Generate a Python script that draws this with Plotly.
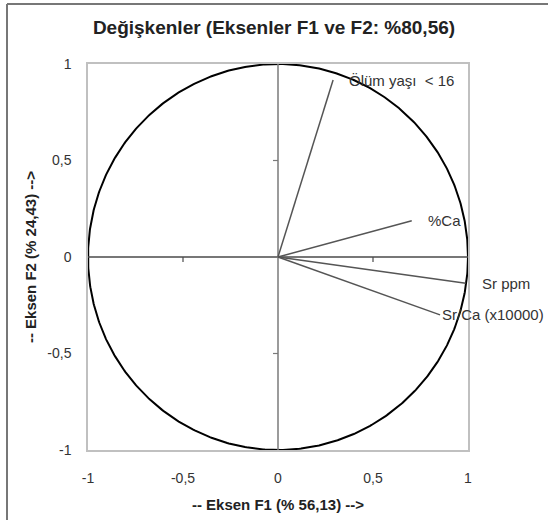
import numpy as np
import plotly.graph_objects as go

# Variable loadings on the first two factors
variables = ["Ölüm yaşı  < 16", "%Ca", "Sr ppm", "Sr/Ca (x10000)"]
f1 = [0.29, 0.704, 0.988, 0.853]
f2 = [0.917, 0.188, -0.136, -0.30]
label_shift = [14, 14, 14, 0]

tick_vals = [-1, -0.5, 0, 0.5, 1]
tick_text = ["-1", "-0,5", "0", "0,5", "1"]

W, H = 548, 520
ML, MR, MT, MB = 88, 80, 64, 70
FONT = "Arial, Liberation Sans, sans-serif"

fig = go.Figure()

# Correlation circle
theta = np.linspace(0, 2 * np.pi, 721)
fig.add_trace(go.Scatter(x=np.cos(theta), y=np.sin(theta), mode="lines",
                         line=dict(color="#000000", width=2),
                         hoverinfo="skip", showlegend=False))

# Axes through the origin
fig.add_trace(go.Scatter(x=[tick_vals[0], tick_vals[-1]], y=[0, 0], mode="lines",
                         line=dict(color="#4a4a4a", width=1.5),
                         hoverinfo="skip", showlegend=False))
fig.add_trace(go.Scatter(x=[0, 0], y=[tick_vals[0], tick_vals[-1]], mode="lines",
                         line=dict(color="#7a7a7a", width=1.5),
                         hoverinfo="skip", showlegend=False))

# Small tick marks on the origin axes
sx = 2 / (W - ML - MR)
sy = 2 / (H - MT - MB)
for v in tick_vals:
    if v in (-1, 0, 1):
        continue
    fig.add_shape(type="line", x0=v, x1=v, y0=0, y1=-5 * sy,
                  line=dict(color="#4a4a4a", width=1.2))
    fig.add_shape(type="line", x0=0, x1=-5 * sx, y0=v, y1=v,
                  line=dict(color="#7a7a7a", width=1.2))

# Loading vectors
for name, x, y, dx in zip(variables, f1, f2, label_shift):
    fig.add_trace(go.Scatter(x=[0, x], y=[0, y], mode="lines",
                             line=dict(color="#555555", width=1.5),
                             name=name, showlegend=False))
    fig.add_annotation(x=x, y=y, text=name, showarrow=False,
                       xanchor="left", yanchor="middle", xshift=dx,
                       font=dict(family=FONT, size=15, color="#333333"))

# Outer frame (left and top edges)
pw = W - ML - MR
ph = H - MT - MB
fx0 = (7 - ML) / pw
fy1 = (H - MB - 4) / ph
fig.add_shape(type="line", xref="paper", yref="paper",
              x0=fx0, x1=(W + 10 - ML) / pw, y0=fy1, y1=fy1,
              line=dict(color="#777777", width=2))
fig.add_shape(type="line", xref="paper", yref="paper",
              x0=fx0, x1=fx0, y0=fy1, y1=(-MB - 10) / ph,
              line=dict(color="#777777", width=2))

axis_common = dict(range=[-1, 1], tickvals=tick_vals, ticktext=tick_text,
                   showgrid=False, zeroline=False, showline=True, mirror=True,
                   linecolor="#c0c0c0", linewidth=1.5, ticks="",
                   automargin=False,
                   tickfont=dict(family=FONT, size=14, color="#333333"))

fig.update_layout(
    width=W, height=H,
    margin=dict(l=ML, r=MR, t=MT, b=MB, autoexpand=False),
    paper_bgcolor="white", plot_bgcolor="white",
    title=dict(text="<b>Değişkenler (Eksenler F1 ve F2: %80,56)</b>",
               x=0.5, xanchor="center", y=1 - 27 / H, yanchor="middle",
               font=dict(family=FONT, size=19, color="#222222")),
    xaxis=dict(**axis_common, ticklabelstandoff=14,
               title=dict(text="<b>-- Eksen F1 (% 56,13) --></b>", standoff=15,
                          font=dict(family=FONT, size=15, color="#222222"))),
    yaxis=dict(**axis_common, ticklabelstandoff=12,
               title=dict(text="<b>-- Eksen F2 (% 24,43) --></b>", standoff=7,
                          font=dict(family=FONT, size=15, color="#222222"))),
)

fig.write_html("out.html")
